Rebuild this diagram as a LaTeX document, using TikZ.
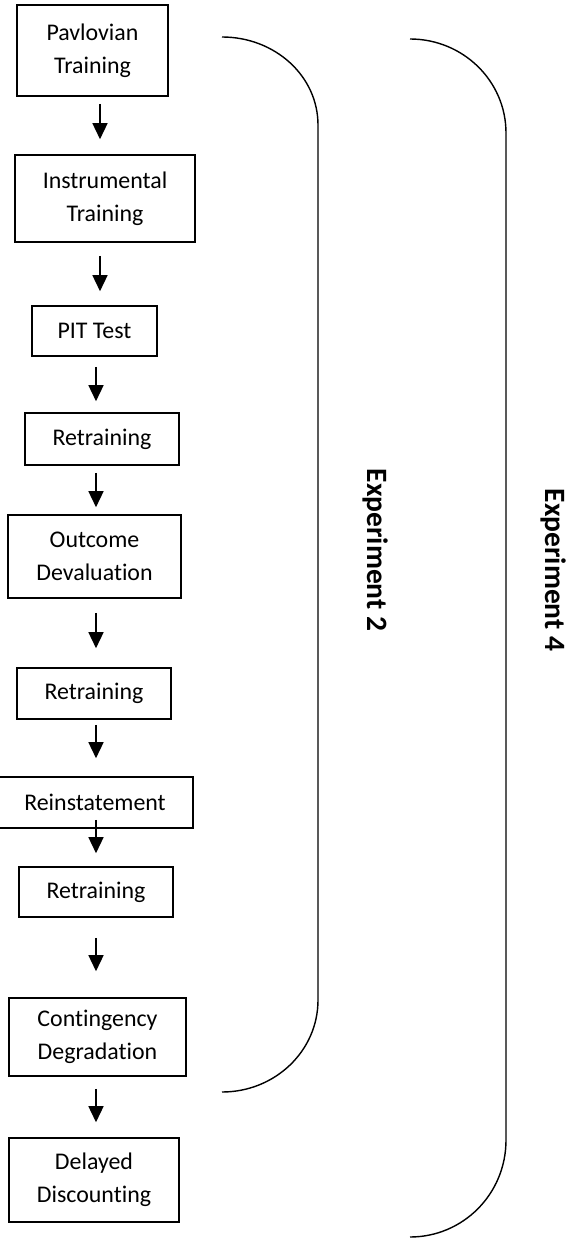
\documentclass[tikz,border=0pt]{standalone}
\usepackage{fontspec}
\setmainfont{Carlito}[Ligatures=NoCommon]
\usepackage{tikz}
\usetikzlibrary{arrows.meta,positioning}

\begin{document}
\begin{tikzpicture}[
    x=0.02cm,
    y=-0.02cm,
    font=\fontsize{13.6pt}{18.8pt}\selectfont,
    stage/.style={rectangle, draw=black, line width=0.9pt, inner sep=0pt, align=center, fill=white},
    link/.style={-{Triangle[length=0.32cm, width=0.3cm]}, line width=0.8pt, draw=black},
    brace/.style={line width=0.8pt, draw=black},
    exptag/.style={font=\fontsize{16.8pt}{20pt}\selectfont\bfseries, rotate=-90}
  ]
    \useasboundingbox (0,0) rectangle (569,1246);

    \node[stage, minimum width=3.02cm, minimum height=1.82cm] (pav) at (92.5,50.5) {Pavlovian\\Training};
    \node[stage, minimum width=3.6cm, minimum height=1.74cm] (instr) at (105,198.5) {Instrumental\\Training};
    \node[stage, minimum width=2.5cm, minimum height=1cm] (pit) at (94.5,331) {PIT Test};
    \node[stage, minimum width=3.08cm, minimum height=1.04cm] (retA) at (102,439) {Retraining};
    \node[stage, minimum width=3.46cm, minimum height=1.66cm] (devalue) at (94.5,556.5) {Outcome\\Devaluation};
    \node[stage, minimum width=3.08cm, minimum height=1.02cm] (retB) at (94,693.5) {Retraining};
    \node[stage, minimum width=3.92cm, minimum height=1.02cm] (reinst) at (95,802.5) {Reinstatement};
    \node[stage, minimum width=3.08cm, minimum height=1cm] (retC) at (96,892) {Retraining};
    \node[stage, minimum width=3.54cm, minimum height=1.56cm] (degrade) at (97.5,1037) {Contingency\\Degradation};
    \node[stage, minimum width=3.4cm, minimum height=1.68cm] (delay) at (94,1180) {Delayed\\Discounting};

    \coordinate (colA) at (100,0);
    \coordinate (colB) at (96,0);

    \draw[link, shorten <=0.14cm, shorten >=0.3cm] (pav.south -| colA) -- (instr.north -| colA);
    \draw[link, shorten <=0.26cm, shorten >=0.28cm] (instr.south -| colA) -- (pit.north -| colA);
    \draw[link, shorten <=0.2cm, shorten >=0.22cm] (pit.south -| colB) -- (retA.north -| colB);
    \draw[link, shorten <=0.14cm, shorten >=0.14cm] (retA.south -| colB) -- (devalue.north -| colB);
    \draw[link, shorten <=0.28cm, shorten >=0.38cm] (devalue.south -| colB) -- (retB.north -| colB);
    \draw[link, shorten <=0.1cm, shorten >=0.36cm] (retB.south -| colB) -- (reinst.north -| colB);
    \draw[link, shorten <=-0.18cm, shorten >=0.26cm] (reinst.south -| colB) -- (retC.north -| colB);
    \draw[link, shorten <=0.4cm, shorten >=0.52cm] (retC.south -| colB) -- (degrade.north -| colB);
    \draw[link, shorten <=0.24cm, shorten >=0.3cm] (degrade.south -| colB) -- (delay.north -| colB);

    % brackets
    \draw[brace] (222,37) .. controls (275,37) and (318,76) .. (318,125) -- (318,1000)
      .. controls (318,1051) and (275,1092) .. (222,1092);
    \draw[brace] (410,39) .. controls (463,39) and (506,81) .. (506,133) -- (506,1140)
      .. controls (506,1194) and (463,1237) .. (410,1237);

    \node[exptag] (expTwo) at (376,550) {Experiment 2};
    \node[exptag] (expFour) at (554,570) {Experiment 4};
  \end{tikzpicture}
\end{document}
